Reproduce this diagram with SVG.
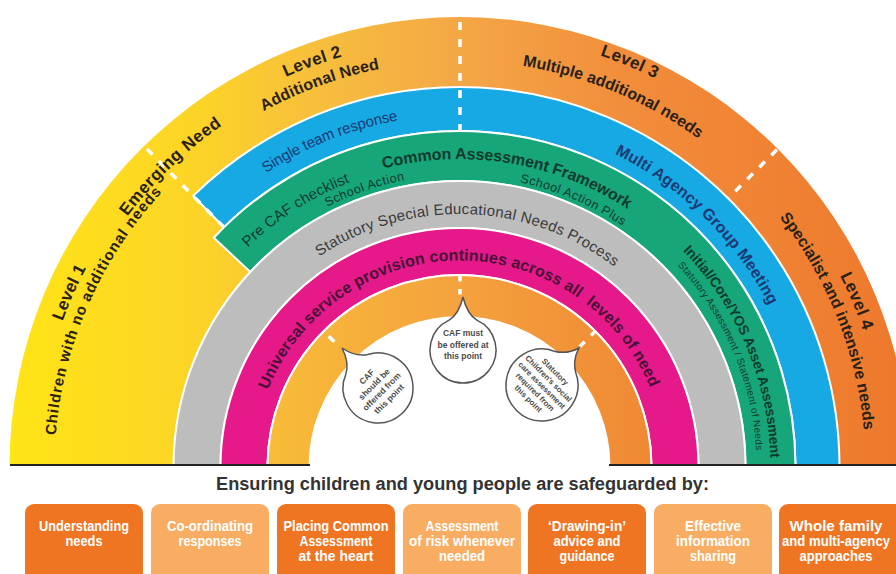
<svg xmlns="http://www.w3.org/2000/svg" width="896" height="574" viewBox="0 0 896 574">
<style>
.band{stroke:#fff;stroke-width:2;stroke-linejoin:miter}
.dash{stroke:#fff;stroke-width:3.5;fill:none;stroke-dasharray:8 9}
.idash{stroke:#fff;stroke-width:3.5;fill:none}
.t{font-family:"Liberation Sans",Arial,sans-serif;text-anchor:middle}
.lvl{font-weight:bold;font-size:17px;fill:#2a2116}
.sub{font-weight:bold;font-size:16px;fill:#2a2116}
.blue{fill:#1b3a73}
.green{fill:#0e3b2c}
.gray{fill:#3a3a3a}
.pink{fill:#4a1036}
.bub{fill:#fff;stroke:#555;stroke-width:1.5}
.bt{font-family:"Liberation Sans",Arial,sans-serif;font-weight:bold;font-size:8.5px;fill:#4a4a4a;text-anchor:middle}
.box-d{fill:#F07522}
.box-l{fill:#F9AD62}
.bx{font-family:"Liberation Sans",Arial,sans-serif;font-weight:bold;font-size:15px;fill:#fff;text-anchor:middle}
</style>
<defs>
<linearGradient id="gOuter" x1="0" y1="0" x2="896" y2="0" gradientUnits="userSpaceOnUse">
<stop offset="0" stop-color="#FFE515"/>
<stop offset="0.22" stop-color="#FCD427"/>
<stop offset="0.35" stop-color="#F7BF3C"/>
<stop offset="0.5" stop-color="#F4A946"/>
<stop offset="0.7" stop-color="#F18D3B"/>
<stop offset="1" stop-color="#EE792C"/>
</linearGradient>
<linearGradient id="gInner" x1="267" y1="0" x2="652" y2="0" gradientUnits="userSpaceOnUse">
<stop offset="0" stop-color="#F8BC38"/>
<stop offset="0.5" stop-color="#F4A23E"/>
<stop offset="1" stop-color="#F08834"/>
</linearGradient>
<clipPath id="clipTop"><rect x="0" y="0" width="896" height="465"/></clipPath>
<path id="r423" d="M36.5,467 A423,423 0 0 1 882.5,467"/>
<path id="r405" d="M54.5,467 A405,405 0 0 1 864.5,467"/>
<path id="r416" d="M43.5,467 A416,416 0 0 1 875.5,467"/>
<path id="r427" d="M32.5,467 A427,427 0 0 1 886.5,467"/>
<path id="r406" d="M53.5,467 A406,406 0 0 1 865.5,467"/>
<path id="r435" d="M24.5,467 A435,435 0 0 1 894.5,467"/>
<path id="r426" d="M33.5,467 A426,426 0 0 1 885.5,467"/>
<path id="r352" d="M107.5,467 A352,352 0 0 1 811.5,467"/>
<path id="r349" d="M110,467 A349.5,349.5 0 0 1 809,467"/>
<path id="r305" d="M154.5,467 A305,305 0 0 1 764.5,467"/>
<path id="r308" d="M151.5,467 A308,308 0 0 1 767.5,467"/>
<path id="r292" d="M167.5,467 A292,292 0 0 1 751.5,467"/>
<path id="r291" d="M168.5,467 A291,291 0 0 1 750.5,467"/>
<path id="r253" d="M206.5,467 A253,253 0 0 1 712.5,467"/>
<path id="r206" d="M253,467 A206.5,206.5 0 0 1 666,467"/>
<path id="r311" d="M148.5,467 A311,311 0 0 1 770.5,467"/>
<path id="r297" d="M162.5,467 A297,297 0 0 1 756.5,467"/>
</defs>
<rect width="896" height="574" fill="#fff"/>

<g id="rainbow" clip-path="url(#clipTop)">
  <g id="outer-band"><path d="M909.5,467 A450,450 0 0 0 9.5,467 Z" fill="url(#gOuter)"/></g>
  <g id="blue-band"><path class="band" fill="#16A9E4" d="M839.5,467 A380,380 0 0 0 193.2,195.9 L224,227.3 A336,336 0 0 1 795.5,467 Z"/></g>
  <g id="green-band"><path class="band" fill="#17A67A" d="M795.5,467 A336,336 0 0 0 213.8,237.8 L250.3,271.9 A286,286 0 0 1 745.5,467 Z"/></g>
  <g id="gray-band"><path class="band" fill="#BDBDBD" d="M745.5,467 A286,286 0 0 0 173.5,467 L220.5,467 A239,239 0 0 1 698.5,467 Z"/></g>
  <g id="pink-band"><path class="band" fill="#E5198A" d="M698.5,467 A239,239 0 0 0 220.5,467 L267.5,467 A192,192 0 0 1 651.5,467 Z"/></g>
  <g id="inner-band"><path class="band" fill="url(#gInner)" d="M651.5,467 A192,192 0 0 0 267.5,467 L309.5,467 A150,150 0 0 1 609.5,467 Z"/></g>
  <g id="centre"><path fill="#fff" d="M309.5,467 A150,150 0 0 1 609.5,467 Z"/></g>
</g>

<g id="dividers">
  <line class="dash" x1="460" y1="22" x2="460" y2="133"/>
  <line class="dash" x1="146.9" y1="148.9" x2="224" y2="227.3"/>
  <line class="dash" x1="777" y1="149.5" x2="728.2" y2="198.3"/>
  <line class="idash" x1="460" y1="276" x2="460" y2="300" stroke-dasharray="5.5 7.5"/>
  <line class="idash" x1="328.7" y1="336.2" x2="334.3" y2="341.8"/>
  <line class="idash" x1="595.3" y1="331.2" x2="591" y2="335.5"/>
  <line class="idash" x1="584.7" y1="341.8" x2="579.7" y2="346.8"/>
</g>

<g id="baseline">
  <rect x="10" y="464" width="300" height="2" fill="#222"/>
  <rect x="609" y="464" width="287" height="2" fill="#222"/>
</g>

<g id="level1">
  <text class="t lvl"><textPath href="#r423" startOffset="13.39%" textLength="58">Level 1</textPath></text>
  <text class="t sub" style="font-size:15px"><textPath href="#r405" startOffset="13.11%" textLength="270">Children with no additional needs</textPath></text>
</g>
<g id="emerging">
  <text class="t lvl"><textPath href="#r416" startOffset="25.61%" textLength="132">Emerging Need</textPath></text>
</g>
<g id="level2">
  <text class="t lvl"><textPath href="#r427" startOffset="38.89%" textLength="60">Level 2</textPath></text>
  <text class="t sub"><textPath href="#r406" startOffset="38.83%" textLength="124">Additional Need</textPath></text>
</g>
<g id="level3">
  <text class="t lvl"><textPath href="#r435" startOffset="62.67%" textLength="60">Level 3</textPath></text>
  <text class="t sub"><textPath href="#r406" startOffset="62.5%" textLength="192">Multiple additional needs</textPath></text>
</g>
<g id="level4">
  <text class="t lvl"><textPath href="#r426" startOffset="87.39%" textLength="60">Level 4</textPath></text>
  <text class="t sub"><textPath href="#r406" startOffset="88%" textLength="232">Specialist and intensive needs</textPath></text>
</g>
<g id="blue-labels">
  <text class="t blue" style="font-size:15px"><textPath href="#r352" startOffset="37.94%" textLength="143">Single team response</textPath></text>
  <text class="t blue" style="font-size:16px;font-weight:bold"><textPath href="#r349" startOffset="74.67%" textLength="220">Multi Agency Group Meeting</textPath></text>
</g>
<g id="green-labels">
  <text class="t green" style="font-size:15px"><textPath href="#r305" startOffset="31.94%" textLength="122">Pre CAF checklist</textPath></text>
  <text class="t green" style="font-size:16px;font-weight:bold"><textPath href="#r308" startOffset="55.22%" textLength="255">Common Assessment Framework</textPath></text>
  <text class="t green" style="font-size:12.5px"><textPath href="#r292" startOffset="39.5%" textLength="82">School Action</textPath></text>
  <text class="t green" style="font-size:12.5px"><textPath href="#r291" startOffset="62.78%" textLength="112">School Action Plus</textPath></text>
  <text class="t green" style="font-size:14px;font-weight:bold"><textPath href="#r311" startOffset="87.28%" textLength="230">Initial/Core/YOS Asset Assessment</textPath></text>
  <text class="t green" style="font-size:10px"><textPath href="#r297" startOffset="87.22%" textLength="205">Statutory Assessment / Statement of Needs</textPath></text>
</g>
<g id="gray-label">
  <text class="t gray" style="font-size:15px"><textPath href="#r253" startOffset="51.11%" textLength="315">Statutory Special Educational Needs Process</textPath></text>
</g>
<g id="pink-label">
  <text class="t pink" style="font-size:16px;font-weight:bold" xml:space="preserve"><textPath href="#r206" startOffset="49.81%" textLength="488">Universal service provision continues across all  levels of need</textPath></text>
</g>

<g id="bubble-left">
  <path class="bub" d="M345.8,374.3 Q349.6,362.5 342,348 Q355.6,357.1 367.8,354.5 A35,35 0 1 1 345.8,374.3 Z"/>
  <g transform="translate(378,388) rotate(-45)">
    <text class="bt" x="0" y="-13">CAF</text>
    <text class="bt" x="0" y="-2.5">should be</text>
    <text class="bt" x="0" y="8">offered from</text>
    <text class="bt" x="0" y="18.5">this point</text>
  </g>
</g>
<g id="bubble-center">
  <path class="bub" d="M449.1,320.1 Q459,314 463,297 Q467,314 476.9,320.1 A33,33 0 1 1 449.1,320.1 Z"/>
  <text class="bt" x="463" y="336">CAF must</text>
  <text class="bt" x="463" y="347.5">be offered at</text>
  <text class="bt" x="463" y="359">this point</text>
</g>
<g id="bubble-right">
  <path class="bub" d="M554.3,351.2 Q566.8,354.6 579,348 Q572.4,360.2 575.8,372.7 A36,36 0 1 1 554.3,351.2 Z"/>
  <g transform="translate(542,385) rotate(45)">
    <text class="bt" style="font-size:7.8px" x="0" y="-16">Statutory</text>
    <text class="bt" style="font-size:7.8px" x="0" y="-6.5">Children's social</text>
    <text class="bt" style="font-size:7.8px" x="0" y="3">care assessment</text>
    <text class="bt" style="font-size:7.8px" x="0" y="12.5">required from</text>
    <text class="bt" style="font-size:7.8px" x="0" y="22">this point</text>
  </g>
</g>

<g id="title">
  <text x="462.5" y="490" font-family="Liberation Sans, Arial, sans-serif" font-weight="bold" font-size="18" fill="#333" text-anchor="middle" textLength="493" lengthAdjust="spacingAndGlyphs">Ensuring children and young people are safeguarded by:</text>
</g>

<g id="box1">
  <rect class="box-d" x="25" y="504" width="118" height="84" rx="9"/>
  <text class="bx" x="84" y="531" textLength="90" lengthAdjust="spacingAndGlyphs">Understanding</text>
  <text class="bx" x="84" y="546" textLength="37" lengthAdjust="spacingAndGlyphs">needs</text>
</g>
<g id="box2">
  <rect class="box-l" x="151" y="504" width="118" height="84" rx="9"/>
  <text class="bx" x="210" y="531" textLength="86" lengthAdjust="spacingAndGlyphs">Co-ordinating</text>
  <text class="bx" x="210" y="546" textLength="63" lengthAdjust="spacingAndGlyphs">responses</text>
</g>
<g id="box3">
  <rect class="box-d" x="277" y="504" width="118" height="84" rx="9"/>
  <text class="bx" x="336" y="531" textLength="105" lengthAdjust="spacingAndGlyphs">Placing Common</text>
  <text class="bx" x="336" y="546" textLength="73" lengthAdjust="spacingAndGlyphs">Assessment</text>
  <text class="bx" x="336" y="561" textLength="75" lengthAdjust="spacingAndGlyphs">at the heart</text>
</g>
<g id="box4">
  <rect class="box-l" x="403" y="504" width="118" height="84" rx="9"/>
  <text class="bx" x="462" y="531" textLength="73" lengthAdjust="spacingAndGlyphs">Assessment</text>
  <text class="bx" x="462" y="546" textLength="106" lengthAdjust="spacingAndGlyphs">of risk whenever</text>
  <text class="bx" x="462" y="561" textLength="46" lengthAdjust="spacingAndGlyphs">needed</text>
</g>
<g id="box5">
  <rect class="box-d" x="528" y="504" width="118" height="84" rx="9"/>
  <text class="bx" x="587" y="531" textLength="78" lengthAdjust="spacingAndGlyphs">‘Drawing-in’</text>
  <text class="bx" x="587" y="546" textLength="67" lengthAdjust="spacingAndGlyphs">advice and</text>
  <text class="bx" x="587" y="561" textLength="55" lengthAdjust="spacingAndGlyphs">guidance</text>
</g>
<g id="box6">
  <rect class="box-l" x="654" y="504" width="118" height="84" rx="9"/>
  <text class="bx" x="713" y="531" textLength="56" lengthAdjust="spacingAndGlyphs">Effective</text>
  <text class="bx" x="713" y="546" textLength="74" lengthAdjust="spacingAndGlyphs">information</text>
  <text class="bx" x="713" y="561" textLength="46" lengthAdjust="spacingAndGlyphs">sharing</text>
</g>
<g id="box7">
  <rect class="box-d" x="779" y="504" width="130" height="84" rx="9"/>
  <text class="bx" x="836" y="531" textLength="93" lengthAdjust="spacingAndGlyphs">Whole family</text>
  <text class="bx" x="836" y="546" textLength="108" lengthAdjust="spacingAndGlyphs">and multi-agency</text>
  <text class="bx" x="836" y="561" textLength="73" lengthAdjust="spacingAndGlyphs">approaches</text>
</g>
</svg>
